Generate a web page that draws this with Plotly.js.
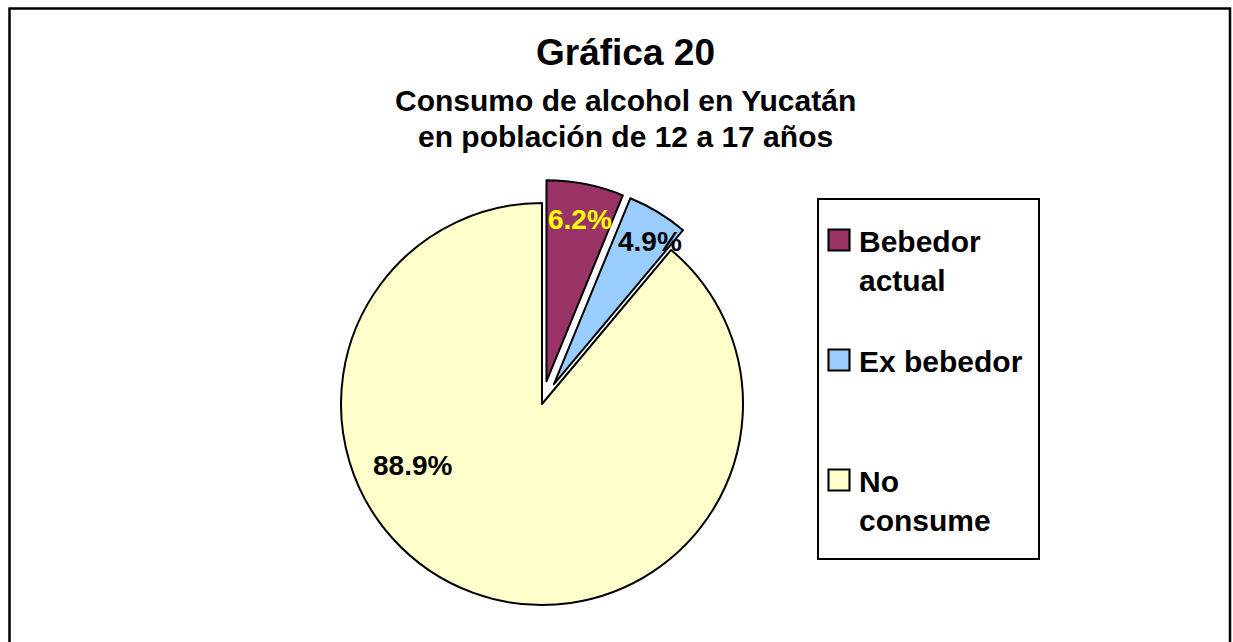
<!DOCTYPE html>
<html><head><meta charset="utf-8">
<script src="https://cdn.plot.ly/plotly-3.0.1.min.js"></script>
<style>html,body{margin:0;padding:0;background:#fff}#chart{width:1233px;height:642px}</style>
</head><body><div id="chart"></div>
<script>
// ---- data ----
const categories = ["Bebedor actual", "Ex bebedor", "No consume"];
const values = [6.2, 4.9, 88.9];
const valueLabels = ["6.2%", "4.9%", "88.9%"];
const titleText = "Gráfica 20";
const subtitleLines = ["Consumo de alcohol en Yucatán", "en población de 12 a 17 años"];

// ---- styles ----
const sliceColors = ["#993366", "#99CCFF", "#FFFFCC"];
const labelColors = ["#FFFF00", "#000000", "#000000"];
const FONT = "Arial, 'Liberation Sans', sans-serif";
const W = 1233, H = 642;

// legend labels: wrap into lines + spacing lines so the items spread like the original box
const legendWrap = [["Bebedor", "actual", " "], ["Ex bebedor", " ", " "], ["No", "consume"]];
const legendLabels = categories.map((c, i) => legendWrap[i].join("<br>"));

// value-label positions (pixel centres)
const labelPos = [[580, 219], [650, 241], [412, 465]];
const subtitleY = [100, 136];

const trace = {
  type: "pie",
  labels: legendLabels,
  values: values,
  sort: false,
  direction: "clockwise",
  rotation: 0,
  pull: [0.115, 0.115, 0],
  marker: {colors: sliceColors, line: {color: "#000000", width: 2}},
  textinfo: "none",
  hoverinfo: "label+percent",
  domain: {x: [317.9 / W, 766.1 / W], y: [1 - 628.1 / H, 1 - 179.9 / H]},
  showlegend: true
};

const annotations = valueLabels.map((t, i) => ({
  text: t, xref: "paper", yref: "paper",
  x: labelPos[i][0] / W, y: 1 - labelPos[i][1] / H,
  xanchor: "center", yanchor: "middle", showarrow: false,
  font: {family: FONT, size: 28, color: labelColors[i], weight: "bold"}
}));
subtitleLines.forEach((t, i) => annotations.push({
  text: t, xref: "paper", yref: "paper",
  x: 625 / W, y: 1 - subtitleY[i] / H, xanchor: "center", yanchor: "middle", showarrow: false,
  font: {family: FONT, size: 30, color: "#000000", weight: "bold"}
}));

const layout = {
  width: W, height: H,
  margin: {l: 0, r: 0, t: 0, b: 0},
  paper_bgcolor: "#ffffff",
  title: {
    text: titleText, x: 625.5 / W, y: 1 - 52 / H, xanchor: "center", yanchor: "middle",
    font: {family: FONT, size: 37, color: "#000000", weight: "bold"}
  },
  legend: {
    x: 819 / W, y: 1 - 201 / H, xanchor: "left", yanchor: "top",
    bgcolor: "rgba(0,0,0,0)", borderwidth: 0,
    valign: "top",
    font: {family: FONT, size: 30, color: "#000000", weight: "bold"},
    title: {text: " ", font: {family: FONT, size: 10}}
  },
  annotations: annotations,
  shapes: [
    { // outer chart frame
      type: "rect", xref: "paper", yref: "paper",
      x0: 9.5 / W, x1: 1230 / W, y0: -0.05, y1: 1 - 8.5 / H,
      line: {color: "#000000", width: 2.5}, fillcolor: "rgba(0,0,0,0)", layer: "below"
    },
    { // legend frame
      type: "rect", xref: "paper", yref: "paper",
      x0: 818 / W, x1: 1039 / W, y0: 1 - 559 / H, y1: 1 - 199 / H,
      line: {color: "#000000", width: 2}, fillcolor: "#ffffff", layer: "below"
    }
  ]
};

Plotly.newPlot("chart", [trace], layout, {staticPlot: true, displayModeBar: false}).then(gd => {
  // enlarge the legend swatches to the size used in the original chart
  gd.querySelectorAll("path.legendpie").forEach(p => {
    p.setAttribute("transform", "translate(20,0) scale(1.75)");
    p.style.strokeWidth = "1.2px";
  });
});
</script></body></html>
